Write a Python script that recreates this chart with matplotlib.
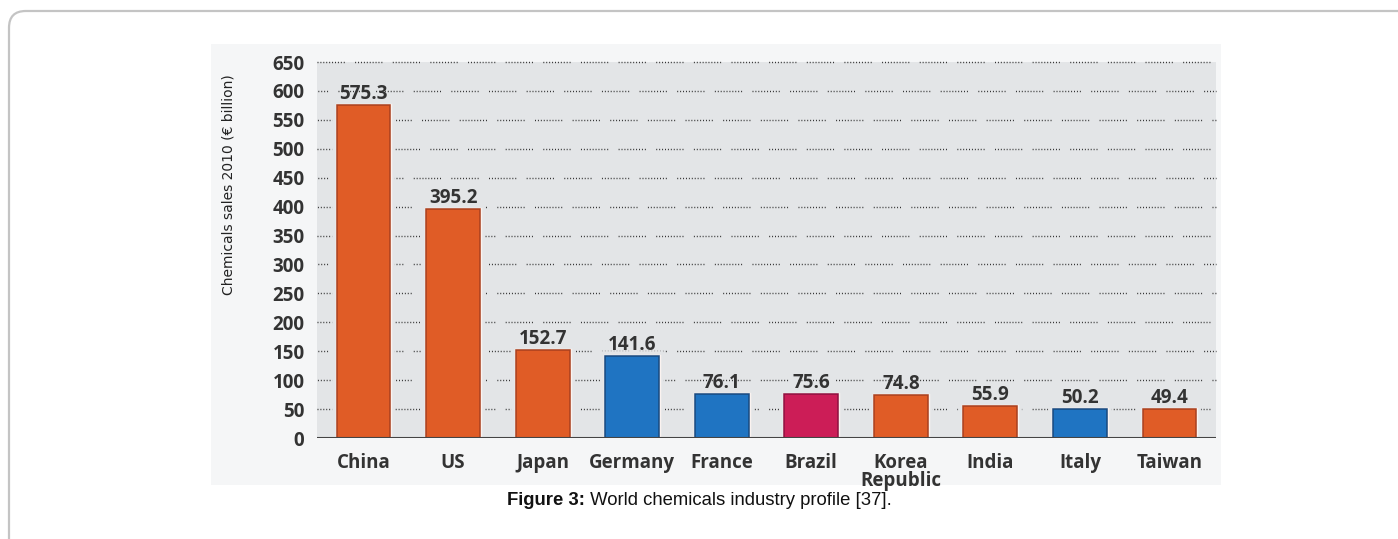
import matplotlib
matplotlib.use("Agg")
import matplotlib.pyplot as plt
from matplotlib.patches import FancyBboxPatch, Rectangle
import numpy as np

countries = ['China', 'US', 'Japan', 'Germany', 'France', 'Brazil',
             'Korea\nRepublic', 'India', 'Italy', 'Taiwan']
sales = [575.3, 395.2, 152.7, 141.6, 76.1, 75.6, 74.8, 55.9, 50.2, 49.4]
value_labels = ['575.3', '395.2', '152.7', '141.6', '76.1', '75.6',
                '74.8', '55.9', '50.2', '49.4']
groups = ['asia', 'asia', 'asia', 'eu', 'eu', 'latam', 'asia', 'asia', 'eu', 'asia']
yticks = list(range(0, 651, 50))

fill = {'asia': '#e05c26', 'eu': '#1f74c2', 'latam': '#cc1d57'}
edge = {'asia': '#a8401f', 'eu': '#18497f', 'latam': '#8e1040'}

txt = '#333333'
num_font = 'Open Sans'

fig = plt.figure(figsize=(13.98, 5.39), dpi=100)

# outer page frame (rounded corner, open to the right/bottom)
frame = FancyBboxPatch((9 / 1398, -0.2), 1.2, (539 - 11) / 539 + 0.2,
                       boxstyle="round,pad=0,rounding_size=0.012",
                       transform=fig.transFigure, fill=False, zorder=-2,
                       edgecolor='#c4c4c4', linewidth=1.6, mutation_aspect=2.6)
fig.patches.append(frame)

# the chart picture background
fig.patches.append(Rectangle((211 / 1398, 54 / 539), (1221 - 211) / 1398, (485 - 44) / 539,
                             transform=fig.transFigure, facecolor='#f5f6f7',
                             edgecolor='none', zorder=-1))

ax = fig.add_axes([317 / 1398, 101 / 539, (1216 - 317) / 1398, (477 - 101) / 539])
bg = '#e3e5e7'
ax.set_facecolor(bg)

x = np.arange(len(countries))
width = 0.6

# dotted, broken grid
dash = [0.7, 1.4] * 9 + [0.7, 7.5]
for k, yv in enumerate(yticks[1:]):
    ax.plot([-0.52, 9.52], [yv, yv], color='#2e2e2e', linewidth=1.0,
            linestyle=((k % 3) * 6, dash), zorder=1, clip_on=False)

cols = [fill[g] for g in groups]
ecols = [edge[g] for g in groups]
# mask grid near bars, white halo, then the bar itself
ax.bar(x, sales, width, color=bg, edgecolor=bg, linewidth=7, zorder=2)
ax.bar(x, sales, width, color='white', edgecolor='#fbf3f0', linewidth=2.5, zorder=3)
ax.bar(x, sales, width, color=cols, edgecolor=ecols, linewidth=1.1, zorder=4)

for xi, v, lab in zip(x, sales, value_labels):
    ax.text(xi, v + 2, lab, ha='center', va='bottom', fontsize=13.5,
            fontweight='bold', color=txt, family=num_font, zorder=5)

ax.axhline(0, color='#444444', linewidth=1.5, zorder=6)

ax.set_xlim(-0.52, 9.52)
ax.set_ylim(0, 650)
ax.set_yticks(yticks)
ax.set_yticklabels([str(t) for t in yticks], fontsize=13.5, fontweight='bold',
                   color=txt, family=num_font)
ax.set_xticks(x)
ax.set_xticklabels(countries, fontsize=13.5, fontweight='bold', color=txt,
                   family=num_font, linespacing=0.82)
ax.tick_params(axis='y', length=0, pad=9)
ax.tick_params(axis='x', length=0, pad=11)
for s in ax.spines.values():
    s.set_visible(False)

fig.text(228 / 1398, 1 - 185 / 539, 'Chemicals sales 2010 (€ billion)',
         rotation=90, ha='center', va='center', fontsize=10,
         family='DejaVu Sans', color='#222222')

# caption
t1 = fig.text(507 / 1398, 34 / 539, 'Figure 3:', fontsize=13.3, fontweight='bold',
              family='Liberation Sans', color='#111111')
ax.annotate(' World chemicals industry profile [37].', xy=(1, 0), xycoords=t1,
            ha='left', va='bottom', fontsize=13.3, family='Liberation Sans',
            color='#111111', annotation_clip=False)

fig.savefig('out.png', dpi=100)
